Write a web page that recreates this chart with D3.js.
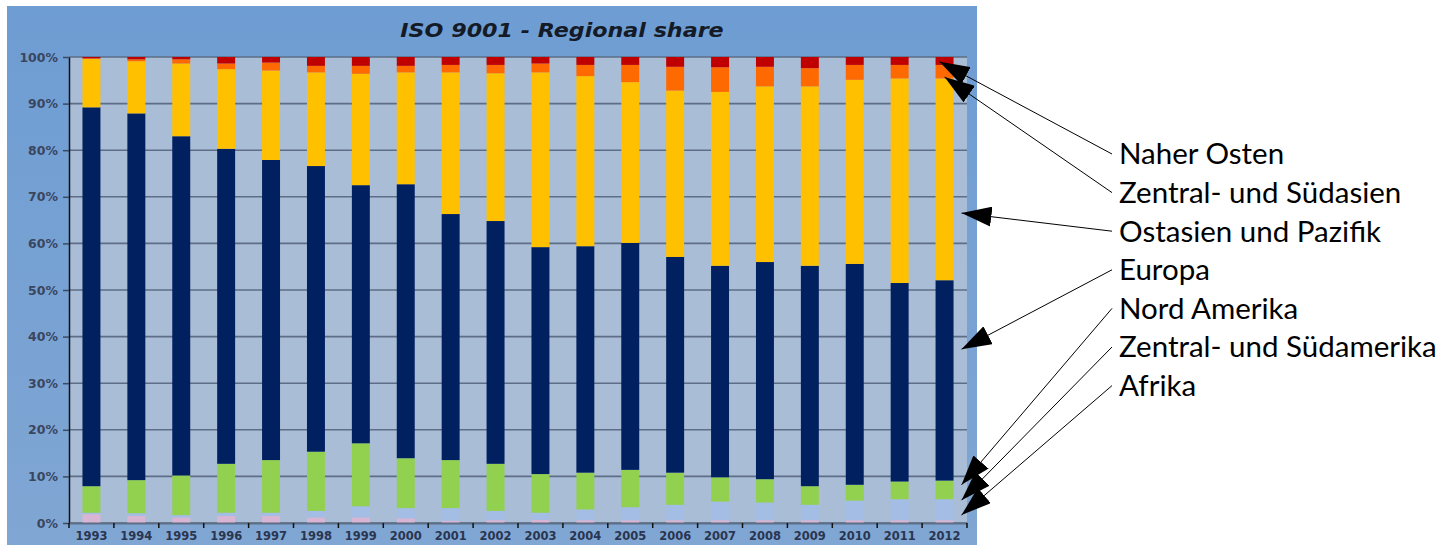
<!DOCTYPE html>
<html>
<head>
<meta charset="utf-8">
<script src="https://cdn.jsdelivr.net/npm/d3@7"></script>
<style>
  body { margin: 0; background: #fff; }
  svg { display: block; }
</style>
</head>
<body>
<svg id="chart" width="1445" height="545"></svg>
<script>
// categories
const years = ["1993", "1994", "1995", "1996", "1997", "1998", "1999", "2000", "2001", "2002",
               "2003", "2004", "2005", "2006", "2007", "2008", "2009", "2010", "2011", "2012"];

// regional share in % (bottom to top of each bar)
const afrika       = [1.9, 1.5, 1.2, 1.5, 1.5, 1.2, 1.2, 1.0, 0.5, 0.6, 0.7, 0.6, 0.6, 0.6, 0.6, 0.6, 0.6, 0.6, 0.6, 0.6];
const suedamerika  = [0.3, 0.6, 0.5, 0.7, 0.7, 1.4, 2.4, 2.2, 2.7, 2.0, 1.5, 2.3, 2.8, 3.3, 4.0, 3.8, 3.3, 4.2, 4.5, 4.5];
const nordamerika  = [5.7, 7.1, 8.5, 10.5, 11.3, 12.7, 13.5, 10.7, 10.3, 10.1, 8.3, 7.9, 8.0, 6.9, 5.2, 5.0, 4.0, 3.4, 3.8, 4.0];
const europa       = [81.3, 78.7, 72.8, 67.6, 64.4, 61.3, 55.4, 58.8, 52.8, 52.1, 48.7, 48.6, 48.7, 46.3, 45.4, 46.6, 47.3, 47.4, 42.6, 43.0];
const ostasien     = [10.4, 11.2, 15.6, 17.1, 19.2, 20.1, 23.9, 24.0, 30.4, 31.7, 37.5, 36.5, 34.5, 35.7, 37.3, 37.7, 38.5, 39.5, 43.9, 43.3];
const suedasien    = [0.1, 0.4, 0.9, 1.2, 1.7, 1.4, 1.7, 1.4, 1.6, 1.8, 1.9, 2.4, 3.7, 5.1, 5.3, 4.2, 3.9, 3.2, 2.9, 2.9];
const naherOsten   = [0.3, 0.5, 0.5, 1.4, 1.2, 1.9, 1.9, 1.9, 1.7, 1.7, 1.4, 1.7, 1.7, 2.1, 2.2, 2.1, 2.4, 1.7, 1.7, 1.7];

const seriesNames  = ["Afrika", "Zentral- und Südamerika", "Nord Amerika", "Europa",
                      "Ostasien und Pazifik", "Zentral- und Südasien", "Naher Osten"];
const seriesValues = [afrika, suedamerika, nordamerika, europa, ostasien, suedasien, naherOsten];
const seriesColors = ["#d8b5d3", "#a4bde4", "#92d050", "#002060", "#ffc000", "#ff6a00", "#c00000"];

const yTicks = [0, 10, 20, 30, 40, 50, 60, 70, 80, 90, 100];

// callouts on the right, top to bottom, with the % value each arrow points at
const calloutLabels  = ["Naher Osten", "Zentral- und Südasien", "Ostasien und Pazifik", "Europa",
                        "Nord Amerika", "Zentral- und Südamerika", "Afrika"];
const calloutTargets = [99.0, 95.7, 66.5, 37.3, 8.2, 4.9, 1.7];

const title = "ISO 9001 - Regional share";

// layout
const svg = d3.select("#chart");
const frame = { left: 7, top: 6, right: 977, bottom: 545 };
const plot = { left: 69, right: 967, top: 57, bottom: 523 };
const axisFont = "DejaVu Sans, Verdana, sans-serif";

const rows = years.map((yr, i) => {
  const r = { year: yr };
  seriesNames.forEach((s, k) => r[s] = seriesValues[k][i]);
  return r;
});
const stacked = d3.stack().keys(seriesNames)(rows);

const x = d3.scaleBand()
  .domain(years)
  .range([plot.left, plot.right])
  .paddingInner(0.6)
  .paddingOuter(0.3);

const y = d3.scaleLinear()
  .domain([0, 100])
  .range([plot.bottom, plot.top]);

// background
const defs = svg.append("defs");
const grad = defs.append("linearGradient")
  .attr("id", "bg").attr("x1", 0).attr("y1", 0).attr("x2", 0).attr("y2", 1);
grad.append("stop").attr("offset", "0%").attr("stop-color", "#6e9dd3");
grad.append("stop").attr("offset", "100%").attr("stop-color", "#80a6d3");

defs.append("marker")
  .attr("id", "arrow")
  .attr("markerUnits", "userSpaceOnUse")
  .attr("markerWidth", 30).attr("markerHeight", 20)
  .attr("refX", 30).attr("refY", 10)
  .attr("orient", "auto")
  .append("path")
  .attr("d", "M0,0L30,10L0,20Z")
  .attr("fill", "#000");

svg.append("rect")
  .attr("x", frame.left).attr("y", frame.top)
  .attr("width", frame.right - frame.left)
  .attr("height", frame.bottom - frame.top)
  .attr("fill", "url(#bg)");

svg.append("rect")
  .attr("x", plot.left).attr("y", plot.top)
  .attr("width", plot.right - plot.left)
  .attr("height", plot.bottom - plot.top)
  .attr("fill", "#aabdd7");

// title (the original is drawn a bit wide, so stretch it horizontally)
svg.append("text")
  .attr("transform", "translate(562,37) scale(1.17,1)")
  .attr("text-anchor", "middle")
  .attr("font-family", axisFont)
  .attr("font-weight", "bold")
  .attr("font-style", "italic")
  .attr("font-size", 19)
  .attr("fill", "#141a26")
  .text(title);

// grid lines
svg.append("g")
  .selectAll("line")
  .data(yTicks)
  .join("line")
  .attr("x1", plot.left).attr("x2", plot.right)
  .attr("y1", d => y(d)).attr("y2", d => y(d))
  .attr("stroke", "#5d6e86")
  .attr("stroke-width", 1.6);

// bars
svg.append("g")
  .selectAll("g")
  .data(stacked)
  .join("g")
  .attr("fill", (d, i) => seriesColors[i])
  .selectAll("rect")
  .data(d => d)
  .join("rect")
  .attr("x", d => x(d.data.year))
  .attr("width", x.bandwidth())
  .attr("y", d => y(d[1]))
  .attr("height", d => y(d[0]) - y(d[1]));

// y axis
const yAxis = svg.append("g")
  .attr("transform", `translate(${plot.left},0)`)
  .call(d3.axisLeft(y).tickValues(yTicks).tickFormat(d => d + "%").tickSize(6).tickSizeOuter(0).tickPadding(5));
yAxis.select(".domain").attr("stroke", "#111").attr("stroke-width", 1.5);
yAxis.selectAll(".tick line").attr("stroke", "#3a4a62").attr("stroke-width", 1.5);
yAxis.selectAll("text")
  .attr("font-family", axisFont)
  .attr("font-weight", "bold")
  .attr("font-size", 12.5)
  .attr("fill", "#3a4660");

// x axis: ticks sit between the bars
const xAxis = svg.append("g")
  .attr("transform", `translate(0,${plot.bottom})`)
  .call(d3.axisBottom(x).tickSize(0).tickPadding(9));
xAxis.select(".domain").attr("stroke", "#5d6e86").attr("stroke-width", 2);
xAxis.selectAll("text")
  .attr("font-family", axisFont)
  .attr("font-weight", "bold")
  .attr("font-size", 11.5)
  .attr("fill", "#2a3550");
xAxis.selectAll(".sep")
  .data(years.concat(["end"]))
  .join("line")
  .attr("class", "sep")
  .attr("x1", (d, i) => i < years.length ? x(d) - x.step() * x.paddingInner() / 2 : plot.right)
  .attr("x2", (d, i) => i < years.length ? x(d) - x.step() * x.paddingInner() / 2 : plot.right)
  .attr("y1", 0).attr("y2", 5)
  .attr("stroke", "#111").attr("stroke-width", 1.5);

// callouts
const lastYear = years[years.length - 1];
const labelX = 1119, labelY0 = 154, labelStep = 38.6;

const callouts = svg.append("g");
calloutLabels.forEach((lab, i) => {
  const ly = labelY0 + i * labelStep;
  const tipX = i < 2 ? x(lastYear) + x.bandwidth() / 2 - (i === 0 ? 5 : 0)
                     : x(lastYear) + x.bandwidth() + 8;
  callouts.append("line")
    .attr("x1", labelX - 7).attr("y1", ly)
    .attr("x2", tipX).attr("y2", y(calloutTargets[i]))
    .attr("stroke", "#000").attr("stroke-width", 1)
    .attr("marker-end", "url(#arrow)");
  callouts.append("text")
    .attr("x", labelX).attr("y", ly)
    .attr("dy", "0.35em")
    .attr("font-family", "Lato, sans-serif")
    .attr("font-size", 29.5)
    .attr("fill", "#000")
    .text(lab);
});
</script>
</body>
</html>
